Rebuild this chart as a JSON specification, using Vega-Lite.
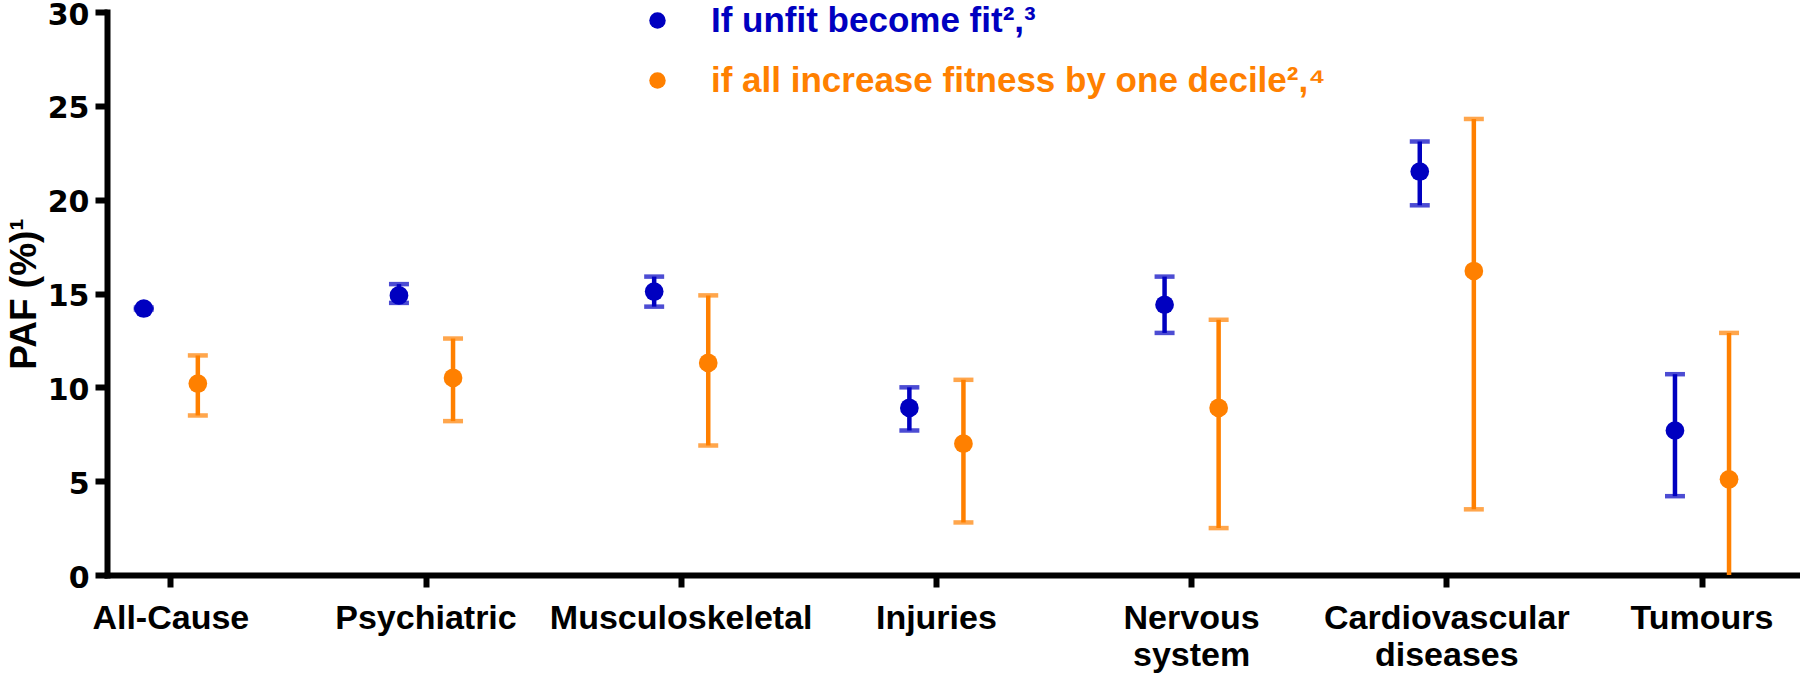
{
  "$schema": "https://vega.github.io/schema/vega-lite/v6.json",
  "autosize": {"type": "none"},
  "padding": {"left": 107, "top": 12, "right": 0, "bottom": 101},
  "width": 1693,
  "height": 563,
  "background": "white",
  "config": {
    "view": {"stroke": null},
    "axis": {
      "domainColor": "black", "domainWidth": 6, "domainCap": "square",
      "tickColor": "black", "tickWidth": 6, "tickSize": 12, "grid": false,
      "labelColor": "black", "titleColor": "black",
      "labelFont": "Liberation Sans", "labelFontWeight": "bold",
      "titleFont": "Liberation Sans", "titleFontWeight": "bold"
    }
  },
  "data": {
    "values": [
      {"cause": "All-Cause", "group": "If unfit become fit²,³", "paf": 14.2, "lo": 14.15, "hi": 14.25},
      {"cause": "All-Cause", "group": "if all increase fitness by one decile²,⁴", "paf": 10.2, "lo": 8.5, "hi": 11.7},
      {"cause": "Psychiatric", "group": "If unfit become fit²,³", "paf": 14.9, "lo": 14.5, "hi": 15.5},
      {"cause": "Psychiatric", "group": "if all increase fitness by one decile²,⁴", "paf": 10.5, "lo": 8.2, "hi": 12.6},
      {"cause": "Musculoskeletal", "group": "If unfit become fit²,³", "paf": 15.1, "lo": 14.3, "hi": 15.9},
      {"cause": "Musculoskeletal", "group": "if all increase fitness by one decile²,⁴", "paf": 11.3, "lo": 6.9, "hi": 14.9},
      {"cause": "Injuries", "group": "If unfit become fit²,³", "paf": 8.9, "lo": 7.7, "hi": 10.0},
      {"cause": "Injuries", "group": "if all increase fitness by one decile²,⁴", "paf": 7.0, "lo": 2.8, "hi": 10.4},
      {"cause": "Nervous system", "group": "If unfit become fit²,³", "paf": 14.4, "lo": 12.9, "hi": 15.9},
      {"cause": "Nervous system", "group": "if all increase fitness by one decile²,⁴", "paf": 8.9, "lo": 2.5, "hi": 13.6},
      {"cause": "Cardiovascular diseases", "group": "If unfit become fit²,³", "paf": 21.5, "lo": 19.7, "hi": 23.1},
      {"cause": "Cardiovascular diseases", "group": "if all increase fitness by one decile²,⁴", "paf": 16.2, "lo": 3.5, "hi": 24.3},
      {"cause": "Tumours", "group": "If unfit become fit²,³", "paf": 7.7, "lo": 4.2, "hi": 10.7},
      {"cause": "Tumours", "group": "if all increase fitness by one decile²,⁴", "paf": 5.1, "lo": -2.7, "hi": 12.9}
    ]
  },
  "encoding": {
    "x": {
      "field": "cause", "type": "nominal", "sort": null,
      "scale": {"paddingInner": 0.5, "paddingOuter": 0.067, "align": 0},
      "axis": {
        "title": null, "labelAngle": 0, "labelFontSize": 34, "labelPadding": 14, "labelLimit": 0,
        "labelExpr": "split(datum.value, ' ')", "labelLineHeight": 37, "labelBaseline": "top"
      }
    },
    "xOffset": {
      "field": "group", "type": "nominal",
      "sort": ["If unfit become fit²,³", "if all increase fitness by one decile²,⁴"],
      "scale": {"paddingInner": 0, "paddingOuter": 0.18}
    },
    "color": {
      "field": "group", "type": "nominal",
      "sort": ["If unfit become fit²,³", "if all increase fitness by one decile²,⁴"],
      "scale": {"range": ["#0000C0", "#FF8000"]},
      "legend": {
        "title": null, "orient": "none", "legendX": 533, "legendY": -9,
        "symbolType": "circle", "symbolSize": 270, "symbolStrokeWidth": 0,
        "labelFont": "Liberation Sans", "labelFontWeight": "bold", "labelFontSize": 35,
        "labelOffset": 36, "rowPadding": 24, "padding": 0, "labelLimit": 0,
        "encode": {"labels": {"update": {"fill": {"scale": "color", "field": "value"}}}}
      }
    }
  },
  "layer": [
    {
      "mark": {"type": "rule", "strokeWidth": 4.5, "clip": true},
      "encoding": {
        "y": {"field": "lo", "type": "quantitative", "scale": {"domain": [0, 30]},
          "axis": {"title": "PAF (%)¹", "values": [0, 5, 10, 15, 20, 25, 30], "labelFont": "DejaVu Sans", "labelFontSize": 30, "labelPadding": 6, "labelOffset": 3, "titleFontSize": 37, "titlePadding": 4}},
        "y2": {"field": "hi"}
      }
    },
    {
      "mark": {"type": "tick", "thickness": 4.5, "size": 20, "clip": true},
      "encoding": {"y": {"field": "lo", "type": "quantitative"}}
    },
    {
      "mark": {"type": "tick", "thickness": 4.5, "size": 20},
      "encoding": {"y": {"field": "hi", "type": "quantitative"}}
    },
    {
      "mark": {"type": "point", "filled": true, "size": 350, "opacity": 1, "shape": "circle"},
      "encoding": {"y": {"field": "paf", "type": "quantitative"}}
    }
  ]
}
